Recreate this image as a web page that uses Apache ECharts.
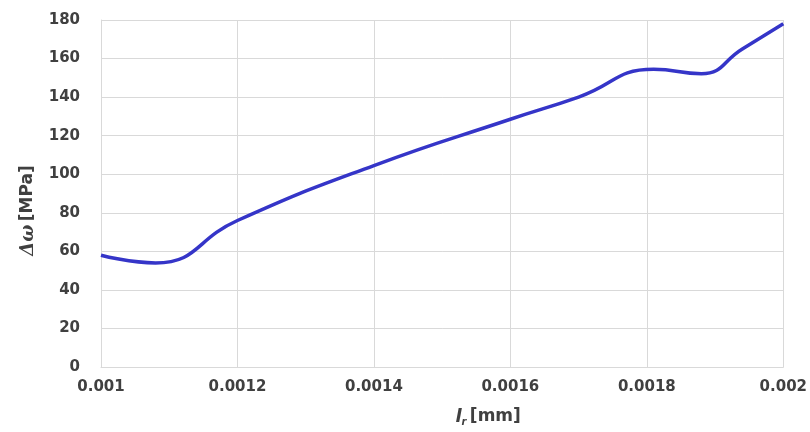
<!DOCTYPE html>
<html>
<head>
<meta charset="utf-8">
<script src="https://cdn.jsdelivr.net/npm/echarts@6/dist/echarts.min.js"></script>
<style>
  html, body { margin: 0; padding: 0; background: #fff; }
  #chart { width: 810px; height: 432px; }
</style>
</head>
<body>
<div id="chart"></div>
<script>
// l_r [mm]
var lr = [0.001, 0.00108, 0.0012, 0.0014, 0.0016, 0.0017, 0.00181, 0.00188, 0.00194, 0.002]
// delta omega [MPa]
var dOmega = [58, 54, 76, 104.5, 128.5, 140, 154.4, 152.1, 165, 178]

var points = []
for (var i = 0; i < lr.length; i++) {
  points.push([lr[i], dOmega[i]])
}

var chart = echarts.init(document.getElementById('chart'))
var labelFont = {
  color: '#404040',
  fontFamily: 'DejaVu Sans',
  fontWeight: 'bold',
  fontSize: 15
}
var option = {
  animation: false,
  grid: {
    left: 101,
    right: 24,
    top: 20,
    bottom: 62
  },
  xAxis: {
    type: 'value',
    min: 0.001,
    max: 0.002,
    interval: 0.0002,
    name: '{i|l}{s|r} {n|[mm]}',
    nameLocation: 'middle',
    nameGap: 40,
    nameTextStyle: {
      padding: [0, 0, 0, 92],
      rich: {
        i: { fontFamily: 'DejaVu Sans', fontWeight: 'bold', fontStyle: 'italic', fontSize: 18, color: '#404040' },
        s: { fontFamily: 'DejaVu Sans', fontWeight: 'bold', fontStyle: 'italic', fontSize: 10, color: '#404040', padding: [10, 0, 0, 0] },
        n: { fontFamily: 'DejaVu Sans', fontWeight: 'bold', fontSize: 17, color: '#404040' }
      }
    },
    axisLine: { show: true, lineStyle: { color: '#d9d9d9' } },
    axisTick: { show: false },
    axisLabel: Object.assign({
      margin: 13,
      formatter: function (v) { return String(parseFloat(v.toFixed(5))) }
    }, labelFont),
    splitLine: { show: true, lineStyle: { color: '#d9d9d9' } }
  },
  yAxis: {
    type: 'value',
    min: 0,
    max: 180,
    interval: 20,
    name: '{g|Δω} {n|[MPa]}',
    nameLocation: 'middle',
    nameGap: 64,
    nameTextStyle: {
      padding: [0, 34, 0, 0],
      rich: {
        g: { fontFamily: 'DejaVu Serif', fontWeight: 'bold', fontStyle: 'italic', fontSize: 18, color: '#404040' },
        n: { fontFamily: 'DejaVu Sans', fontWeight: 'bold', fontSize: 17, color: '#404040' }
      }
    },
    axisLine: { show: true, lineStyle: { color: '#d9d9d9' } },
    axisTick: { show: false },
    axisLabel: Object.assign({ margin: 21 }, labelFont),
    splitLine: { show: true, lineStyle: { color: '#d9d9d9' } }
  },
  series: [{
    type: 'line',
    data: points,
    smooth: 0.5,
    showSymbol: false,
    lineStyle: { color: '#3535c8', width: 3.5 }
  }]
}
chart.setOption(option)
</script>
</body>
</html>
